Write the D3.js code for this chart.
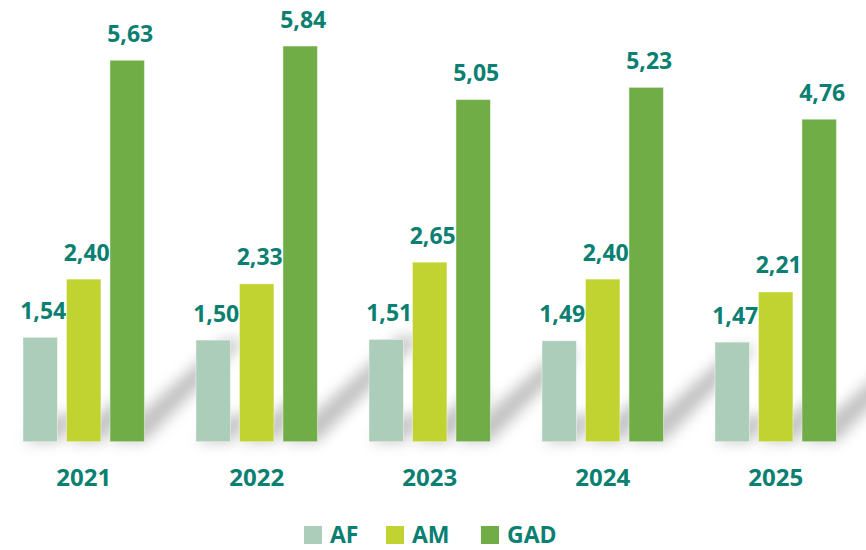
<!DOCTYPE html>
<html>
<head>
<meta charset="utf-8">
<script src="https://cdn.jsdelivr.net/npm/d3@7"></script>
<style>
  html, body { margin: 0; padding: 0; background: #ffffff; }
  svg { display: block; }
</style>
</head>
<body>
<svg id="chart" width="866" height="550"></svg>
<script>
const years = ["2021", "2022", "2023", "2024", "2025"];
const seriesNames = ["AF", "AM", "GAD"];
const afValues = [1.54, 1.50, 1.51, 1.49, 1.47];
const amValues = [2.40, 2.33, 2.65, 2.40, 2.21];
const gadValues = [5.63, 5.84, 5.05, 5.23, 4.76];
const seriesColors = ["#abcdb9", "#c0d330", "#70ad47"];
const textColor = "#0a7f72";

const seriesValues = [afValues, amValues, gadValues];
const rows = [];
years.forEach((yr, i) => {
  seriesNames.forEach((s, j) => {
    rows.push({ year: yr, series: s, value: seriesValues[j][i], color: seriesColors[j] });
  });
});

const svg = d3.select("#chart");
const baseY = 441.7;

const x0 = d3.scaleBand().domain(years).range([-2.8, 862.2])
  .paddingInner(0.2977).paddingOuter(0.14885);
const x1 = d3.scaleBand().domain(seriesNames).range([0, x0.bandwidth()])
  .paddingInner(0.207).paddingOuter(0);
const y = d3.scaleLinear().domain([0, 6]).range([baseY, baseY - 6 * 67.75]);

const fmt = v => d3.format(".2f")(v).replace(".", ",");

// shadow filter
const defs = svg.append("defs");
defs.append("filter").attr("id", "blur")
  .attr("x", "-50%").attr("y", "-50%").attr("width", "200%").attr("height", "200%")
  .append("feGaussianBlur").attr("stdDeviation", 7);

const shadowG = svg.append("g").attr("filter", "url(#blur)");
shadowG.selectAll("path").data(rows).join("path")
  .attr("d", d => {
    const xa = x0(d.year) + x1(d.series);
    const xb = xa + x1.bandwidth();
    const h = baseY - y(d.value);
    const L = h * 0.28;
    const dx = L, dy = -L * 0.95;
    return `M${xa},${baseY} L${xb},${baseY} L${xb + dx - 6},${baseY + dy} L${xa + dx + 6},${baseY + dy} Z`;
  })
  .attr("fill", "#000")
  .attr("fill-opacity", 0.24);

// bars
svg.append("g").selectAll("rect").data(rows).join("rect")
  .attr("x", d => x0(d.year) + x1(d.series))
  .attr("y", d => y(d.value))
  .attr("width", x1.bandwidth())
  .attr("height", d => baseY - y(d.value))
  .attr("fill", d => d.color)
  .attr("stroke", "#ffffff")
  .attr("stroke-opacity", 0.45)
  .attr("stroke-width", 1);

// value labels
svg.append("g").selectAll("text").data(rows).join("text")
  .attr("x", d => x0(d.year) + x1(d.series) + x1.bandwidth() / 2 + 3)
  .attr("y", d => y(d.value) - 18.5)
  .attr("text-anchor", "middle")
  .attr("font-family", "'Open Sans', sans-serif")
  .attr("font-weight", 700)
  .attr("font-size", 23)
  .attr("fill", textColor)
  .text(d => fmt(d.value));

// category axis labels
const xAxis = d3.axisBottom(x0).tickSize(0).tickPadding(0);
const axG = svg.append("g").attr("transform", `translate(0,${baseY})`).call(xAxis);
axG.select(".domain").remove();
axG.selectAll("text")
  .attr("y", 44)
  .attr("dy", 0)
  .attr("font-family", "'Open Sans', sans-serif")
  .attr("font-weight", 700)
  .attr("font-size", 24)
  .attr("fill", textColor);

// legend
const legendX = [304, 386, 481];
const legend = svg.append("g");
seriesNames.forEach((s, j) => {
  legend.append("rect")
    .attr("x", legendX[j]).attr("y", 526).attr("width", 18).attr("height", 18)
    .attr("fill", seriesColors[j]);
  legend.append("text")
    .attr("x", legendX[j] + 26).attr("y", 543)
    .attr("font-family", "'Open Sans', sans-serif")
    .attr("font-weight", 700)
    .attr("font-size", 23)
    .attr("fill", textColor)
    .text(s);
});
</script>
</body>
</html>
